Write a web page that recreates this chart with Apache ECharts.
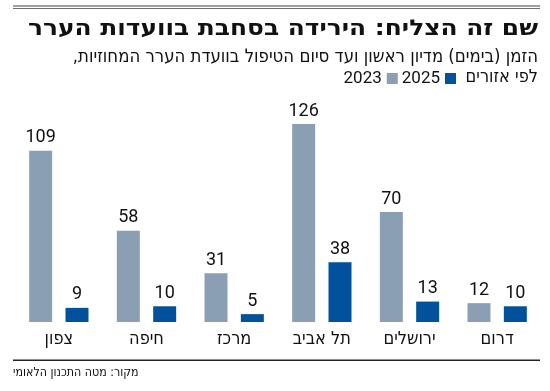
<!DOCTYPE html>
<html><head><meta charset="utf-8">
<script src="https://cdn.jsdelivr.net/npm/echarts@6/dist/echarts.min.js"></script>
<style>html,body{margin:0;padding:0;background:#fff}#c{width:550px;height:391px}</style>
</head><body><div id="c"></div>
<script>
const categories = ['צפון', 'חיפה', 'מרכז', 'תל אביב', 'ירושלים', 'דרום'];
const values2023 = [109, 58, 31, 126, 70, 12];
const values2025 = [9, 10, 5, 38, 13, 10];
const seriesNames = ['2023', '2025'];
const titleText = 'שם זה הצליח: הירידה בסחבת בוועדות הערר';
const subLine1 = '\u200Fהזמן (בימים) מדיון ראשון ועד סיום הטיפול בוועדת הערר המחוזיות,\u200F';
const subLine2 = 'לפי אזורים';
const sourceText = 'מקור: מטה התכנון הלאומי';

const FONT = 'Roboto, "DejaVu Sans Condensed", sans-serif';
const HFONT = '"DejaVu Sans Condensed", sans-serif';
const chart = echarts.init(document.getElementById('c'));
chart.setOption({
  animation: false,
  textStyle: { fontFamily: FONT },
  title: [
    { text: subLine1, right: 12, top: 48, padding: 0, textStyle: { fontFamily: HFONT, fontSize: 18.4, fontWeight: 'normal', color: '#111' } },
    { text: subLine2, right: 12, top: 68, padding: 0, textStyle: { fontFamily: HFONT, fontSize: 18, fontWeight: 'normal', color: '#111' } },
    { text: sourceText, left: 13, top: 367, padding: 0, textStyle: { fontFamily: HFONT, fontSize: 12.3, fontWeight: 'normal', color: '#111' } }
  ],
  legend: {
    data: seriesNames,
    right: 94, top: 69.5, padding: 0,
    align: 'right',
    itemWidth: 11, itemHeight: 11, itemGap: 4,
    icon: 'rect',
    textStyle: { fontFamily: FONT, fontSize: 17, lineHeight: 18, color: '#111' }
  },
  graphic: [
    { type: 'rect', shape: { x: 13, y: 5, width: 527, height: 2 }, style: { fill: '#a0a0a0' } },
    { type: 'rect', shape: { x: 13, y: 8, width: 527, height: 1 }, style: { fill: '#707070' } },
    { type: 'rect', shape: { x: 13, y: 359.5, width: 527, height: 1.5 }, style: { fill: '#222' } },
    { type: 'text', x: 538, y: 29.5, scaleX: 1.13,
      style: { text: titleText, font: 'bold 22px "DejaVu Sans", sans-serif', fill: '#111', align: 'right', verticalAlign: 'middle' } }
  ],
  grid: { left: 15, right: 9, top: 102, bottom: 69, containLabel: false },
  xAxis: {
    type: 'category', data: categories,
    axisLine: { show: false }, axisTick: { show: false },
    axisLabel: { fontFamily: HFONT, fontSize: 18, color: '#111', margin: 8 }
  },
  yAxis: { type: 'value', min: 0, max: 140, show: false, splitLine: { show: false } },
  series: [
    { name: seriesNames[0], type: 'bar', data: values2023, barWidth: 23, barGap: '58%',
      itemStyle: { color: '#8a9fb4' },
      label: { show: true, position: 'top', distance: 4, fontFamily: FONT, fontSize: 18, color: '#111' } },
    { name: seriesNames[1], type: 'bar', data: values2025, barWidth: 23,
      itemStyle: { color: '#02519c' },
      label: { show: true, position: 'top', distance: 4, fontFamily: FONT, fontSize: 18, color: '#111' } }
  ]
});
</script></body></html>
